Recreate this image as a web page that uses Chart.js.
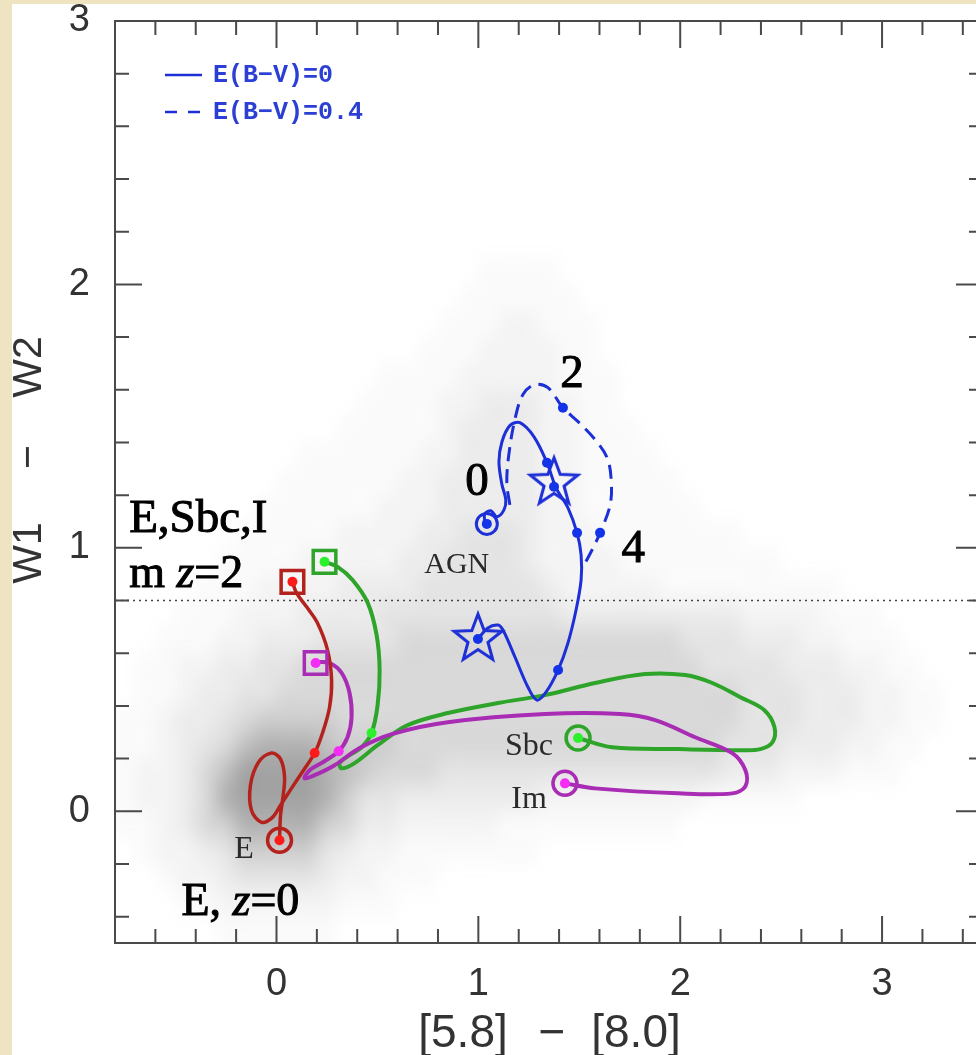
<!DOCTYPE html>
<html>
<head>
<meta charset="utf-8">
<script src="https://cdn.jsdelivr.net/npm/chart.js@4.4.1/dist/chart.umd.min.js"></script>
<style>
  html, body { margin: 0; padding: 0; overflow: hidden; width: 976px; height: 1055px; background: #eee4c1; }
  body { position: relative; }
  #paper { position: absolute; left: 12px; top: 4px; width: 1000px; height: 1100px; background: #fff; }
  #chart { position: absolute; left: 0; top: -15px; }
</style>
</head>
<body>
<div id="paper"></div>
<canvas id="chart" width="1004" height="1070"></canvas>
<script>
// axis ranges
const xMin = -0.8, xMax = 3.5, yMin = -0.5, yMax = 3.0;
const wiseCut = 0.8; // W1 - W2 = 0.8 dotted line

// colour tracks of the templates, z = 0 -> 2  ([5.8]-[8.0], W1-W2)
const eTrack = [[0.015,-0.110],[0.020,-0.015],[0.030,0.042],[0.040,0.129],[0.020,0.198],[-0.025,0.221],
  [-0.089,0.186],[-0.129,0.099],[-0.124,0.004],[-0.074,-0.042],[-0.020,-0.023],[0.020,0.023],[0.074,0.087],
  [0.134,0.156],[0.189,0.221],[0.228,0.297],[0.263,0.395],[0.273,0.498],[0.253,0.612],[0.203,0.715],
  [0.149,0.776],[0.099,0.829],[0.079,0.871]];
const sbcTrack = [[1.494,0.278],[1.663,0.243],[1.990,0.236],[2.298,0.232],[2.397,0.236],[2.457,0.262],
  [2.467,0.319],[2.417,0.384],[2.298,0.433],[2.159,0.487],[2.025,0.517],[1.826,0.521],[1.578,0.487],
  [1.330,0.441],[1.097,0.411],[0.849,0.373],[0.650,0.327],[0.501,0.251],[0.387,0.183],[0.323,0.163],
  [0.313,0.183],[0.362,0.213],[0.422,0.243],[0.471,0.297],[0.501,0.403],[0.511,0.536],[0.496,0.669],
  [0.452,0.791],[0.377,0.878],[0.303,0.928],[0.238,0.947]];
const imTrack = [[1.429,0.106],[1.578,0.087],[1.990,0.068],[2.258,0.068],[2.323,0.095],[2.323,0.156],
  [2.258,0.221],[2.074,0.281],[1.876,0.346],[1.702,0.369],[1.330,0.369],[0.849,0.338],[0.571,0.293],
  [0.412,0.240],[0.288,0.175],[0.189,0.137],[0.139,0.125],[0.164,0.156],[0.238,0.190],[0.308,0.228],
  [0.352,0.281],[0.372,0.357],[0.362,0.449],[0.323,0.525],[0.263,0.563],[0.194,0.567]];
const agnTrack = [[0.998,0.654],[1.047,0.696],[1.097,0.707],[1.122,0.688],[1.181,0.586],[1.246,0.471],
  [1.290,0.422],[1.335,0.452],[1.395,0.536],[1.444,0.639],[1.484,0.764],[1.509,0.878],[1.509,0.973],
  [1.489,1.057],[1.444,1.152],[1.385,1.228],[1.340,1.323],[1.275,1.422],[1.206,1.475],[1.156,1.464],
  [1.117,1.403],[1.102,1.327],[1.117,1.240],[1.136,1.183],[1.127,1.144],[1.092,1.118],[1.062,1.141],
  [1.032,1.129],[1.032,1.103],[1.042,1.091]];
const agnReddened = [[1.156,1.163],[1.141,1.247],[1.151,1.354],[1.181,1.487],[1.221,1.582],[1.280,1.620],
  [1.345,1.608],[1.419,1.532],[1.494,1.479],[1.578,1.411],[1.638,1.342],[1.658,1.259],[1.653,1.163],
  [1.603,1.057],[1.563,0.992],[1.519,0.928]];

// redshift markers: z=0 circles, z=1 dots, z=2 squares
const z0Marks = [[0.015,-0.110],[1.494,0.278],[1.429,0.106]];
const z1Marks = [[0.189,0.221],[0.471,0.297],[0.308,0.228]];
const z2Marks = [[0.079,0.871],[0.238,0.947],[0.194,0.563]];
const agnZ0 = [[1.042,1.091]];
const agnStars = [[0.998,0.654],[1.375,1.247]];
const agnDots = [[1.340,1.323],[1.395,0.536],[1.489,1.057],[0.998,0.654],[1.375,1.232],[1.042,1.091]];
const agnReddenedDots = [[1.419,1.532],[1.603,1.057]];

// density of the grey background sample, 0.1 x 0.1 cells, rows from W1-W2 = 3.0 down to -0.5,
// columns from [5.8]-[8.0] = -0.8 to 3.5 (level 0-9)
const cloudRows = [
  "0000000000 0000000000 0000000000 0000000000 000",
  "0000000000 0000000000 0000000000 0000000000 000",
  "0000000000 0000000000 0000000000 0000000000 000",
  "0000000000 0000000000 0000000000 0000000000 000",
  "0000000000 0000000000 0000000000 0000000000 000",
  "0000000000 0000000000 0000000000 0000000000 000",
  "0000000000 0000000000 0000000000 0000000000 000",
  "0000000000 0000000000 0000000000 0000000000 000",
  "0000000000 0000000000 0000000000 0000000000 000",
  "0000000000 0000000011 1100000000 0000000000 000",
  "0000000000 0000000111 1110000000 0000000000 000",
  "0000000000 0000001112 2111000000 0000000000 000",
  "0000000000 0000011122 2211000000 0000000000 000",
  "0000000000 0001111222 2211100000 0000000000 000",
  "0000000000 0011112233 3221100000 0000000000 000",
  "0000000000 0111112333 3221110000 0000000000 000",
  "0000000001 1111122333 3221111000 0000000000 000",
  "0000000011 1111223333 3221111100 0000000000 000",
  "0000000111 1112223333 3221111110 0000000000 000",
  "0000001111 1222233444 3222111111 1000000000 000",
  "0000011112 2222334444 3222211111 1110000000 000",
  "0000111222 2333344444 4322222111 1111110000 000",
  "0001112223 3334444444 4433333333 3222211100 000",
  "0011122333 4444555555 5555555544 4333221110 000",
  "0112233445 5555555555 5555555554 4443332211 000",
  "0112334455 5555555555 5555555555 5444333221 100",
  "1123345666 6555555555 5555555555 5444333221 100",
  "1123457888 7666555555 5555555555 4443332211 000",
  "1223579999 8765554444 4444444444 3332221110 000",
  "1223589999 8644333333 3222222221 1111000000 000",
  "1123568888 6533222221 1111111100 0000000000 000",
  "0122346666 4322111111 1000000000 0000000000 000",
  "0012234444 3221110000 0000000000 0000000000 000",
  "0001122222 2111000000 0000000000 0000000000 000",
  "0000011111 1000000000 0000000000 0000000000 000"
];
const cloudStep = 0.1;
const levelAlpha = [0, 0.035, 0.08, 0.13, 0.19, 0.26, 0.34, 0.43, 0.53, 0.63];

const cE = '#b3221c', cSbc = '#2ea52a', cIm = '#a82cb4', cAgn = '#1d2fd6';
const dotE = '#ff1a1a', dotSbc = '#2cf02c', dotIm = '#f52cf5', dotAgn = '#1233e8';

const pts = arr => arr.map(([x, y]) => ({ x, y }));

// background cloud as a tiny image, stretched over the axes
const cloudImg = document.createElement('canvas');
const grid = cloudRows.map(r => r.replace(/ /g, ''));
cloudImg.width = grid[0].length;
cloudImg.height = grid.length;
{
  const g = cloudImg.getContext('2d');
  grid.forEach((row, r) => {
    [...row].forEach((ch, c) => {
      const lvl = +ch;
      if (!lvl) return;
      g.fillStyle = `rgba(110,110,110,${levelAlpha[lvl]})`;
      g.fillRect(c, r, 1, 1);
    });
  });
}

function starImage(color) {
  const c = document.createElement('canvas');
  c.width = c.height = 60;
  const g = c.getContext('2d');
  g.strokeStyle = color;
  g.lineWidth = 3;
  g.beginPath();
  for (let k = 0; k < 10; k++) {
    const r = k % 2 ? 10.5 : 25;
    const a = -Math.PI / 2 + k * Math.PI / 5;
    g.lineTo(30 + r * Math.cos(a), 30 + r * Math.sin(a));
  }
  g.closePath();
  g.stroke();
  return c;
}

const cloudPlugin = {
  id: 'cloud',
  beforeDatasetsDraw(chart) {
    const { ctx, chartArea: a, scales: { x, y } } = chart;
    const x0 = x.getPixelForValue(xMin), x1 = x.getPixelForValue(xMin + grid[0].length * cloudStep);
    const y0 = y.getPixelForValue(yMax), y1 = y.getPixelForValue(yMax - grid.length * cloudStep);
    ctx.save();
    ctx.beginPath();
    ctx.rect(a.left, a.top, a.right - a.left, a.bottom - a.top);
    ctx.clip();
    ctx.imageSmoothingEnabled = true;
    ctx.imageSmoothingQuality = 'high';
    ctx.drawImage(cloudImg, x0, y0, x1 - x0, y1 - y0);
    ctx.restore();
  }
};

const framePlugin = {
  id: 'frame',
  afterDatasetsDraw(chart) {
    const { ctx, chartArea: a, scales: { x, y } } = chart;
    ctx.save();
    ctx.strokeStyle = '#4a4a4a';
    ctx.lineWidth = 2;
    ctx.strokeRect(a.left, a.top, a.right - a.left, a.bottom - a.top);
    ctx.beginPath();
    for (let k = 1; k < 22; k++) {
      const v = xMin + 0.2 * k;
      const len = Math.abs(v - Math.round(v)) < 1e-6 ? 27 : 14;
      const px = x.getPixelForValue(v);
      ctx.moveTo(px, a.bottom); ctx.lineTo(px, a.bottom - len);
      ctx.moveTo(px, a.top); ctx.lineTo(px, a.top + len);
    }
    for (let k = 0; k < 17; k++) {
      const v = -0.4 + 0.2 * k;
      const len = Math.abs(v - Math.round(v)) < 1e-6 ? 27 : 14;
      const py = y.getPixelForValue(v);
      ctx.moveTo(a.left, py); ctx.lineTo(a.left + len, py);
      ctx.moveTo(a.right, py); ctx.lineTo(a.right - len, py);
    }
    ctx.stroke();
    ctx.restore();
  }
};

const serif = (size, italic) => `${italic ? 'italic ' : ''}${size}px "Liberation Serif", serif`;

function drawRuns(ctx, runs, px, py, size) {
  for (const [t, it] of runs) {
    ctx.font = serif(size, it);
    ctx.fillText(t, px, py);
    ctx.strokeText(t, px, py);
    px += ctx.measureText(t).width;
  }
}

const textPlugin = {
  id: 'texts',
  afterDraw(chart) {
    const { ctx, chartArea: a, scales: { x, y } } = chart;
    ctx.save();

    // legend
    ctx.strokeStyle = cAgn;
    ctx.lineWidth = 2.5;
    ctx.beginPath();
    ctx.moveTo(a.left + 50, a.top + 54); ctx.lineTo(a.left + 87, a.top + 54);
    ctx.stroke();
    ctx.setLineDash([12, 11]);
    ctx.beginPath();
    ctx.moveTo(a.left + 50, a.top + 91); ctx.lineTo(a.left + 87, a.top + 91);
    ctx.stroke();
    ctx.setLineDash([]);
    ctx.fillStyle = '#2b3fd4';
    ctx.font = 'bold 25px "Liberation Mono", monospace';
    ctx.textBaseline = 'middle';
    ctx.fillText('E(B\u2212V)=0', a.left + 98, a.top + 55);
    ctx.fillText('E(B\u2212V)=0.4', a.left + 98, a.top + 92);

    // template labels
    ctx.textBaseline = 'alphabetic';
    ctx.fillStyle = '#2a2a2a';
    ctx.textAlign = 'center';
    const small = [['AGN', 0.893, 0.905, 30], ['Sbc', 1.251, 0.213, 32], ['Im', 1.251, 0.011, 32], ['E', -0.161, -0.179, 32]];
    for (const [t, vx, vy, s] of small) {
      ctx.font = serif(s);
      ctx.fillText(t, x.getPixelForValue(vx), y.getPixelForValue(vy));
    }

    // big annotations
    ctx.fillStyle = '#000';
    ctx.strokeStyle = '#000';
    ctx.lineWidth = 1;
    const digits = [['0', 0.993, 1.202], ['2', 1.464, 1.612], ['4', 1.767, 0.947]];
    for (const [t, vx, vy] of digits) {
      ctx.font = serif(47);
      ctx.fillText(t, x.getPixelForValue(vx), y.getPixelForValue(vy));
      ctx.strokeText(t, x.getPixelForValue(vx), y.getPixelForValue(vy));
    }
    ctx.textAlign = 'left';
    drawRuns(ctx, [['E,Sbc,I', false]], x.getPixelForValue(-0.730), y.getPixelForValue(1.061), 47);
    drawRuns(ctx, [['m ', false], ['z', true], ['=2', false]], x.getPixelForValue(-0.730), y.getPixelForValue(0.852), 46);
    drawRuns(ctx, [['E, ', false], ['z', true], ['=0', false]], x.getPixelForValue(-0.471), y.getPixelForValue(-0.395), 46);

    // axis titles
    ctx.fillStyle = '#333';
    ctx.font = '46px "Liberation Sans", sans-serif';
    ctx.textAlign = 'center';
    const cx = (a.left + a.right) / 2;
    const base = a.bottom + 104;
    ctx.fillText('[5.8]', cx - 86, base);
    ctx.fillText('\u2212', cx + 3, base);
    ctx.fillText('[8.0]', cx + 87, base);
    ctx.font = '41px "Liberation Sans", sans-serif';
    ctx.textBaseline = 'middle';
    for (const [t, dy] of [['W2', 346], ['\u2212', 436], ['W1', 532]]) {
      ctx.save();
      ctx.translate(30, a.top + dy);
      ctx.rotate(-Math.PI / 2);
      ctx.fillText(t, 0, 0);
      ctx.restore();
    }
    ctx.restore();
  }
};

const curve = (data, color, width, dash) => ({
  data: pts(data), showLine: true, borderColor: color, borderWidth: width,
  borderDash: dash || [], pointRadius: 0, tension: 0.35
});

new Chart(document.getElementById('chart'), {
  type: 'scatter',
  data: {
    datasets: [
      { data: pts(agnDots.concat(agnReddenedDots)), pointRadius: 5, pointBackgroundColor: dotAgn, pointBorderWidth: 0 },
      { data: pts(z0Marks.concat(z1Marks, z2Marks)), pointRadius: 5, pointBorderWidth: 0,
        pointBackgroundColor: [dotE, dotSbc, dotIm, dotE, dotSbc, dotIm, dotE, dotSbc, dotIm] },
      { data: pts(z2Marks), pointStyle: 'rect', pointRadius: 16, pointBorderWidth: 3.5,
        pointBorderColor: [cE, cSbc, cIm], pointBackgroundColor: 'rgba(0,0,0,0)' },
      { data: pts(z0Marks), pointStyle: 'circle', pointRadius: 12, pointBorderWidth: 3.5,
        pointBorderColor: [cE, cSbc, cIm], pointBackgroundColor: 'rgba(0,0,0,0)' },
      { data: pts(agnZ0), pointStyle: 'circle', pointRadius: 10.5, pointBorderWidth: 3,
        pointBorderColor: cAgn, pointBackgroundColor: 'rgba(0,0,0,0)' },
      { data: pts(agnStars), pointStyle: starImage(cAgn), pointRadius: 20 },
      curve(agnTrack, cAgn, 3),
      curve(agnReddened, cAgn, 3, [14, 8]),
      curve(eTrack, cE, 3.5),
      curve(imTrack, cIm, 4),
      curve(sbcTrack, cSbc, 4),
      { data: pts([[xMin, wiseCut], [xMax, wiseCut]]), showLine: true, borderColor: '#444',
        borderWidth: 1.6, borderDash: [2, 4], pointRadius: 0 }
    ]
  },
  options: {
    responsive: false,
    animation: false,
    layout: { padding: { left: 0, top: 0, right: 8, bottom: 0 } },
    plugins: { legend: { display: false }, tooltip: { enabled: false } },
    scales: {
      x: {
        type: 'linear', min: xMin, max: xMax,
        grid: { display: false }, border: { display: false },
        ticks: { stepSize: 1, includeBounds: false, padding: 11, color: '#333',
                 font: { family: 'Liberation Sans', size: 38 } },
        afterFit(s) { s.height = 112; }
      },
      y: {
        type: 'linear', min: yMin, max: yMax,
        grid: { display: false }, border: { display: false },
        ticks: { stepSize: 1, includeBounds: false, padding: 17, color: '#333',
                 font: { family: 'Liberation Sans', size: 38, lineHeight: 1 } },
        afterFit(s) { s.width = 115; }
      }
    }
  },
  plugins: [cloudPlugin, framePlugin, textPlugin]
});
</script>
</body>
</html>
